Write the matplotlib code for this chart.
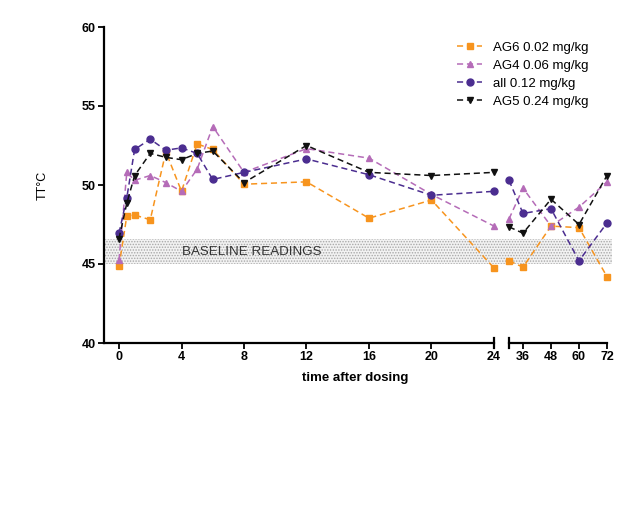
import matplotlib
matplotlib.use("Agg")
import matplotlib.pyplot as plt
import matplotlib.transforms as mtransforms
from matplotlib.patches import Rectangle

plt.rcParams['font.family'] = ['Liberation Sans', 'DejaVu Sans']
plt.rcParams['hatch.linewidth'] = 0.7

# ---- data ----
times_a = [0, 0.5, 1, 2, 3, 4, 5, 6, 8, 12, 16, 20, 24]
times_b = [30, 36, 48, 60, 72]

ag6_a = [44.85, 48.05, 48.1, 47.8, 52.1, 49.6, 52.6, 52.25, 50.05, 50.2, 47.9, 49.05, 44.75]
ag6_b = [45.2, 44.8, 47.4, 47.3, 44.2]
ag4_a = [45.25, 50.8, 50.3, 50.6, 50.15, 49.6, 51.0, 53.7, 50.8, 52.3, 51.7, 49.4, 47.4]
ag4_b = [47.85, 49.8, 47.4, 48.6, 50.2]
all_a = [46.95, 49.2, 52.25, 52.9, 52.2, 52.35, 52.0, 50.35, 50.8, 51.65, 50.65, 49.35, 49.6]
all_b = [50.3, 48.2, 48.5, 45.2, 47.6]
ag5_a = [46.6, 48.85, 50.6, 52.0, 51.75, 51.6, 52.0, 52.15, 50.15, 52.5, 50.8, 50.6, 50.8]
ag5_b = [47.35, 46.95, 49.1, 47.5, 50.6]

labels = ["AG6 0.02 mg/kg", "AG4 0.06 mg/kg", "all 0.12 mg/kg", "AG5 0.24 mg/kg"]
colors = ["#F7941E", "#B56CB8", "#4B2D90", "#111111"]
markers = ["s", "^", "o", "v"]

ticks_a = [0, 4, 8, 12, 16, 20, 24]
ticks_b = [36, 48, 60, 72]
yticks = [40, 45, 50, 55, 60]
baseline = (45.0, 46.6)

W, H = 622, 516
fig = plt.figure(figsize=(W / 100, H / 100), dpi=100)
bottom = (H - 343) / H
top = (H - 27) / H
axa = fig.add_axes([104 / W, bottom, (494 - 104) / W, top - bottom])
axb = fig.add_axes([509 / W, bottom, (607 - 509) / W, top - bottom])

series_a = [ag6_a, ag4_a, all_a, ag5_a]
series_b = [ag6_b, ag4_b, all_b, ag5_b]

for ax, xs, series in [(axa, times_a, series_a), (axb, times_b, series_b)]:
    for ys, c, m, lab in zip(series, colors, markers, labels):
        ax.plot(xs, ys, color=c, marker=m, markersize=5, linewidth=1.1,
                linestyle=(0, (4, 2.5)), label=lab, clip_on=False, zorder=3)
    ax.set_ylim(40, 60)
    ax.patch.set_alpha(0)
    for s in ["top", "right"]:
        ax.spines[s].set_visible(False)
    ax.spines["bottom"].set_linewidth(1.6)
    ax.tick_params(axis="x", direction="out", length=4, width=1.3, labelsize=9, pad=2)

axa.set_xlim(-0.96, 24)
axa.set_xticks(ticks_a)
axa.set_yticks(yticks)
axa.spines["left"].set_linewidth(1.6)
axa.tick_params(axis="y", direction="out", length=4, width=1.3, labelsize=9, pad=2)
for t in axa.get_xticklabels() + axa.get_yticklabels():
    t.set_fontweight("bold")

axb.set_xlim(30, 72)
axb.set_xticks(ticks_b)
axb.spines["left"].set_visible(False)
axb.set_yticks([])
for t in axb.get_xticklabels():
    t.set_fontweight("bold")

# baseline band spanning both segments (continuous across the break)
band_tr = mtransforms.blended_transform_factory(fig.transFigure, axa.transData)
fig.patches.append(Rectangle((104 / W, baseline[0]), (612 - 104) / W, baseline[1] - baseline[0],
                             transform=band_tr, facecolor="#f2f2f2", edgecolor="#a8a8a8",
                             hatch="......", linewidth=0, zorder=-5))

# end caps on broken axis
for ax, xpos in [(axa, 1.0), (axb, 0.0)]:
    ax.plot([xpos, xpos], [-0.016, 0.016], transform=ax.transAxes, color="black",
            linewidth=1.6, clip_on=False, zorder=4)

axa.text(4.05, 45.75, "BASELINE READINGS", fontsize=9.6, va="center", ha="left", color="#333333", zorder=2)

fig.text(43 / W, (H - 185) / H, "TT°C", rotation=90, fontsize=9, va="center", ha="center")
fig.text(355 / W, (H - 378) / H, "time after dosing", fontsize=9.5, fontweight="bold", va="center", ha="center")

handles, labs = axa.get_legend_handles_labels()
fig.legend(handles, labs, loc="upper left", bbox_to_anchor=(452 / W, 1 - 36 / H), frameon=False,
           fontsize=9.5, handlelength=1.9, labelspacing=0.45, handletextpad=0.8, borderaxespad=0)

fig.savefig("out.png", dpi=100)
